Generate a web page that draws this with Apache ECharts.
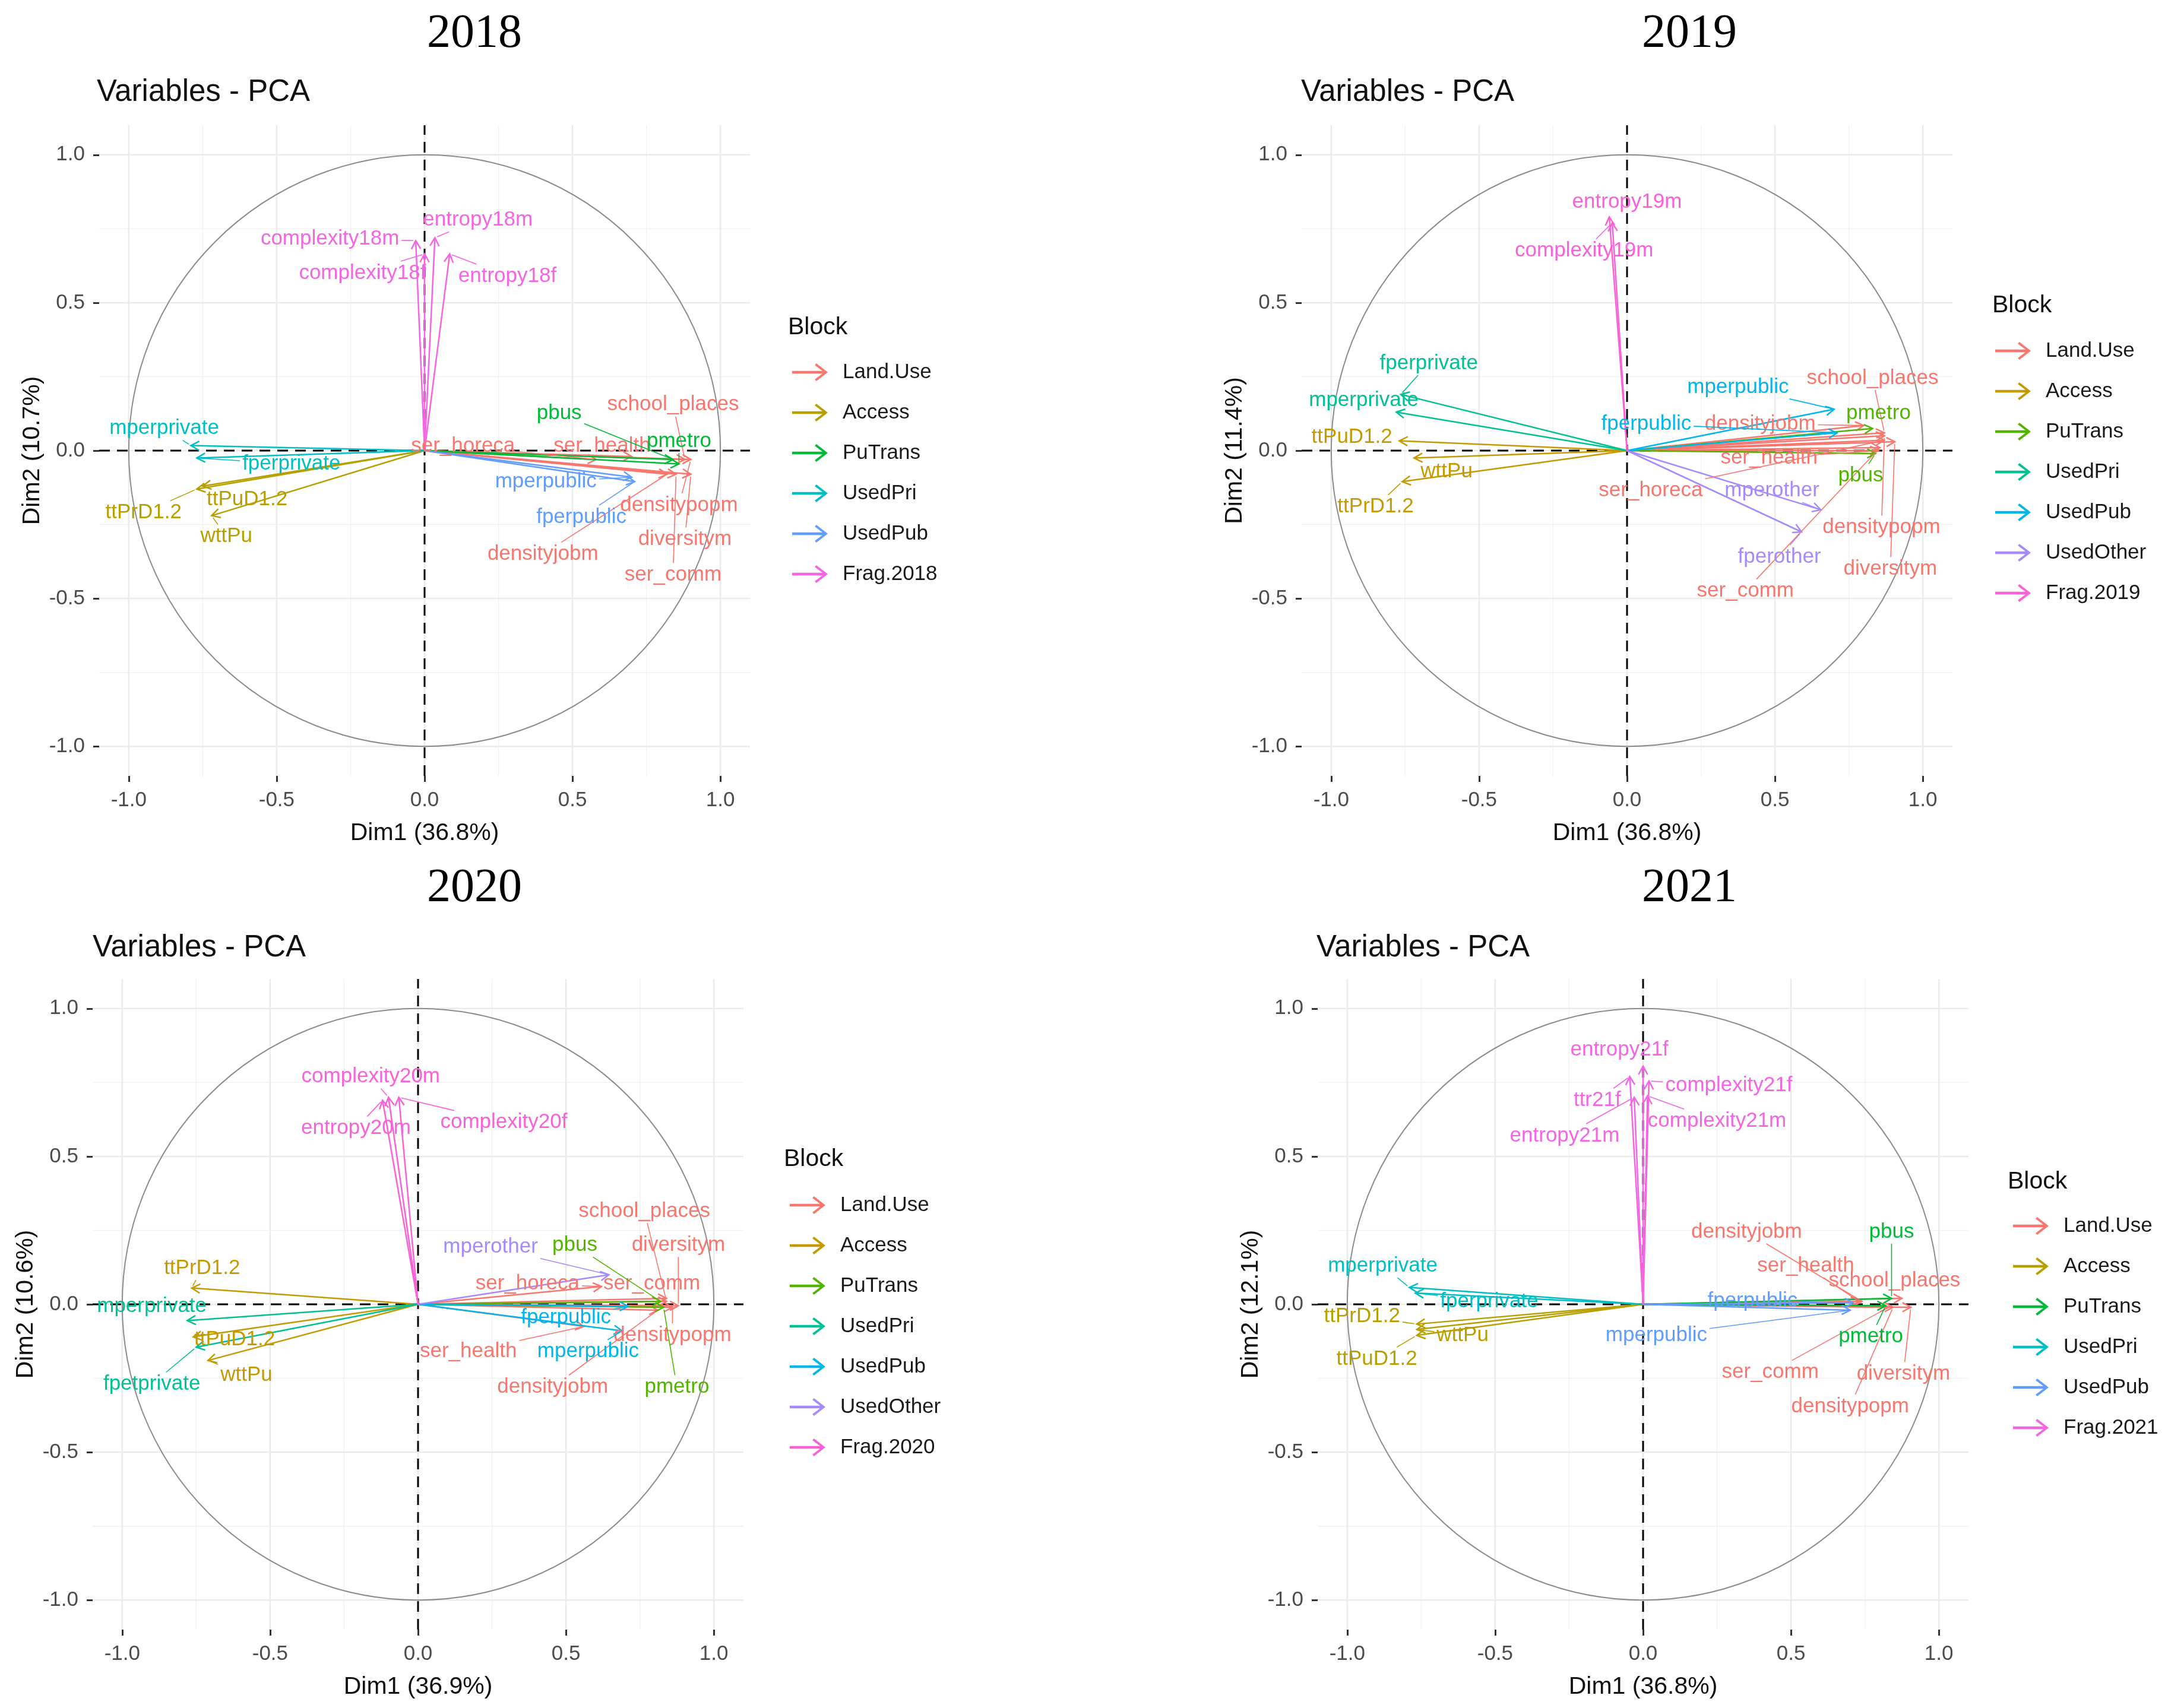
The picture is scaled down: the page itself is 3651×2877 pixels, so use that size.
<!DOCTYPE html>
<html><head><meta charset="utf-8">
<script src="https://cdn.jsdelivr.net/npm/echarts@6/dist/echarts.min.js"></script>
<style>html,body{margin:0;padding:0;background:#fff}#c{width:3651px;height:2877px}</style>
</head><body><div id="c"></div>
<script>
// ---------------- DATA ----------------
const axisTicks = [-1.0, -0.5, 0.0, 0.5, 1.0];
const minorTicks = [-0.75, -0.25, 0.25, 0.75];
const tickLabels = ['-1.0', '-0.5', '0.0', '0.5', '1.0'];
const yearTitles = ['2018', '2019', '2020', '2021'];
const dim1Titles = ['Dim1 (36.8%)', 'Dim1 (36.8%)', 'Dim1 (36.9%)', 'Dim1 (36.8%)'];
const dim2Titles = ['Dim2 (10.7%)', 'Dim2 (11.4%)', 'Dim2 (10.6%)', 'Dim2 (12.1%)'];

const blocks2018 = ['Land.Use', 'Access', 'PuTrans', 'UsedPri', 'UsedPub', 'Frag.2018'];
const blocks2019 = ['Land.Use', 'Access', 'PuTrans', 'UsedPri', 'UsedPub', 'UsedOther', 'Frag.2019'];
const blocks2020 = ['Land.Use', 'Access', 'PuTrans', 'UsedPri', 'UsedPub', 'UsedOther', 'Frag.2020'];
const blocks2021 = ['Land.Use', 'Access', 'PuTrans', 'UsedPri', 'UsedPub', 'Frag.2021'];

// 2018
const names2018 = ['ser_horeca','ser_health','school_places','densitypopm','diversitym','densityjobm','ser_comm',
  'ttPrD1.2','ttPuD1.2','wttPu','pbus','pmetro','mperprivate','fperprivate','mperpublic','fperpublic',
  'complexity18m','entropy18m','complexity18f','entropy18f'];
const block2018 = ['Land.Use','Land.Use','Land.Use','Land.Use','Land.Use','Land.Use','Land.Use',
  'Access','Access','Access','PuTrans','PuTrans','UsedPri','UsedPri','UsedPub','UsedPub',
  'Frag.2018','Frag.2018','Frag.2018','Frag.2018'];
const dim1_2018 = [0.58, 0.70, 0.88, 0.90, 0.90, 0.82, 0.85, -0.77, -0.75, -0.72, 0.84, 0.86, -0.79, -0.77, 0.70, 0.71, -0.03, 0.035, 0.0, 0.085];
const dim2_2018 = [-0.03, -0.02, -0.03, -0.03, -0.08, -0.08, -0.08, -0.13, -0.12, -0.22, -0.03, -0.045, 0.017, -0.025, -0.09, -0.105, 0.71, 0.72, 0.665, 0.665];

// 2019
const names2019 = ['school_places','densityjobm','ser_health','ser_horeca','densitypopm','diversitym','ser_comm',
  'ttPuD1.2','wttPu','ttPrD1.2','pmetro','pbus','fperprivate','mperprivate','mperpublic','fperpublic',
  'mperother','fperother','entropy19m','complexity19m'];
const block2019 = ['Land.Use','Land.Use','Land.Use','Land.Use','Land.Use','Land.Use','Land.Use',
  'Access','Access','Access','PuTrans','PuTrans','UsedPri','UsedPri','UsedPub','UsedPub',
  'UsedOther','UsedOther','Frag.2019','Frag.2019'];
const dim1_2019 = [0.87, 0.80, 0.85, 0.87, 0.87, 0.905, 0.855, -0.77, -0.72, -0.76, 0.83, 0.84, -0.765, -0.78, 0.70, 0.71, 0.655, 0.59, -0.06, -0.05];
const dim2_2019 = [0.06, 0.085, 0.0, 0.035, 0.05, 0.03, 0.01, 0.033, -0.025, -0.105, 0.075, -0.01, 0.19, 0.13, 0.14, 0.06, -0.20, -0.275, 0.79, 0.77];

// 2020
const names2020 = ['school_places','diversitym','ser_horeca','ser_comm','densitypopm','ser_health','densityjobm',
  'ttPrD1.2','ttPuD1.2','wttPu','pbus','pmetro','mperprivate','fpetprivate','fperpublic','mperpublic',
  'mperother','complexity20m','complexity20f','entropy20m'];
const block2020 = ['Land.Use','Land.Use','Land.Use','Land.Use','Land.Use','Land.Use','Land.Use',
  'Access','Access','Access','PuTrans','PuTrans','UsedPri','UsedPri','UsedPub','UsedPub',
  'UsedOther','Frag.2020','Frag.2020','Frag.2020'];
const dim1_2020 = [0.84, 0.88, 0.62, 0.84, 0.86, 0.56, 0.81, -0.765, -0.76, -0.71, 0.82, 0.83, -0.78, -0.75, 0.71, 0.69, 0.645, -0.10, -0.065, -0.12];
const dim2_2020 = [0.01, -0.005, 0.06, 0.02, -0.01, -0.075, -0.02, 0.055, -0.11, -0.19, 0.01, -0.01, -0.055, -0.145, -0.007, -0.09, 0.10, 0.70, 0.70, 0.69];

// 2021
const names2021 = ['densityjobm','ser_health','school_places','ser_comm','diversitym','densitypopm',
  'ttPrD1.2','wttPu','ttPuD1.2','pbus','pmetro','mperprivate','fperprivate','mperpublic','fperpublic',
  'entropy21f','complexity21f','ttr21f','complexity21m','entropy21m'];
const block2021 = ['Land.Use','Land.Use','Land.Use','Land.Use','Land.Use','Land.Use',
  'Access','Access','Access','PuTrans','PuTrans','UsedPri','UsedPri','UsedPub','UsedPub',
  'Frag.2021','Frag.2021','Frag.2021','Frag.2021','Frag.2021'];
const dim1_2021 = [0.74, 0.73, 0.875, 0.83, 0.905, 0.845, -0.765, -0.765, -0.765, 0.84, 0.82, -0.79, -0.77, 0.70, 0.71, 0.0, 0.02, -0.045, 0.015, -0.03];
const dim2_2021 = [0.01, 0.01, 0.02, -0.01, -0.01, -0.01, -0.067, -0.085, -0.105, 0.02, -0.005, 0.057, 0.038, -0.02, 0.005, 0.805, 0.755, 0.77, 0.705, 0.70];

// ---------------- LAYOUT (label placement as drawn by the repel step, data units) ----------------
const labelAt2018 = [[0.13,0.015],[0.60,0.015],[0.84,0.155],[0.86,-0.185],[0.88,-0.30],[0.40,-0.35],[0.84,-0.42],
  [-0.95,-0.21],[-0.60,-0.165],[-0.67,-0.29],[0.455,0.125],[0.86,0.032],[-0.88,0.075],[-0.45,-0.045],[0.41,-0.105],[0.53,-0.225],
  [-0.32,0.715],[0.18,0.78],[-0.21,0.60],[0.28,0.59]];
const labelAt2019 = [[0.83,0.245],[0.45,0.09],[0.48,-0.025],[0.08,-0.135],[0.86,-0.26],[0.89,-0.40],[0.40,-0.475],
  [-0.93,0.045],[-0.61,-0.07],[-0.85,-0.19],[0.85,0.125],[0.79,-0.085],[-0.67,0.295],[-0.89,0.17],[0.375,0.215],[0.065,0.09],
  [0.49,-0.135],[0.515,-0.36],[0.0,0.84],[-0.145,0.675]];
const labelAt2020 = [[0.765,0.315],[0.88,0.20],[0.37,0.07],[0.79,0.07],[0.86,-0.105],[0.17,-0.16],[0.455,-0.28],
  [-0.73,0.122],[-0.62,-0.12],[-0.58,-0.24],[0.53,0.20],[0.875,-0.28],[-0.90,-0.007],[-0.90,-0.27],[0.50,-0.045],[0.575,-0.16],
  [0.245,0.195],[-0.16,0.77],[0.29,0.615],[-0.21,0.595]];
const labelAt2021 = [[0.35,0.245],[0.55,0.13],[0.85,0.08],[0.43,-0.23],[0.88,-0.235],[0.70,-0.345],
  [-0.95,-0.04],[-0.61,-0.105],[-0.90,-0.185],[0.84,0.245],[0.77,-0.11],[-0.88,0.13],[-0.52,0.01],[0.045,-0.105],[0.37,0.012],
  [-0.08,0.86],[0.29,0.74],[-0.155,0.69],[0.25,0.62],[-0.265,0.57]];

const palette6 = ['#F8766D','#B79F00','#00BA38','#00BFC4','#619CFF','#F564E3'];
const palette7 = ['#F8766D','#C49A00','#53B400','#00C094','#00B6EB','#A58AFF','#FB61D7'];

const panels = [
  {blocks: blocks2018, pal: palette6, names: names2018, block: block2018, d1: dim1_2018, d2: dim2_2018, lab: labelAt2018,
   left: 167, top: 211, titleX: 799, titleTop: 18, subLeft: 163, subTop: 130, blockLeft: 1327, blockTop: 531, legLeft: 1334, legTop: 607},
  {blocks: blocks2019, pal: palette7, names: names2019, block: block2019, d1: dim1_2019, d2: dim2_2019, lab: labelAt2019,
   left: 2192, top: 211, titleX: 2845, titleTop: 18, subLeft: 2191, subTop: 130, blockLeft: 3355, blockTop: 494, legLeft: 3360, legTop: 571},
  {blocks: blocks2020, pal: palette7, names: names2020, block: block2020, d1: dim1_2020, d2: dim2_2020, lab: labelAt2020,
   left: 156, top: 1649, titleX: 799, titleTop: 1457, subLeft: 156, subTop: 1571, blockLeft: 1320, blockTop: 1932, legLeft: 1330, legTop: 2010},
  {blocks: blocks2021, pal: palette6, names: names2021, block: block2021, d1: dim1_2021, d2: dim2_2021, lab: labelAt2021,
   left: 2219, top: 1649, titleX: 2845, titleTop: 1457, subLeft: 2217, subTop: 1571, blockLeft: 3381, blockTop: 1970, legLeft: 3390, legTop: 2045}
];
const SIZE = 1096;
const SANS = '"Liberation Sans", Arial, sans-serif';
const LABEL_FONT = '35px ' + SANS;

const measureCtx = document.createElement('canvas').getContext('2d');
measureCtx.font = LABEL_FONT;

function fmtTick(v) {
  let best = 0;
  axisTicks.forEach((t, i) => { if (Math.abs(t - v) < Math.abs(axisTicks[best] - v)) best = i; });
  return tickLabels[best];
}

function backgroundRender(params, api) {
  const lo = -1.1, hi = 1.1;
  const ch = [];
  minorTicks.forEach(t => {
    const a = api.coord([t, lo]), b = api.coord([t, hi]);
    ch.push({type: 'line', shape: {x1: a[0], y1: a[1], x2: b[0], y2: b[1]}, style: {stroke: '#F2F2F2', lineWidth: 1.5}});
    const c = api.coord([lo, t]), d = api.coord([hi, t]);
    ch.push({type: 'line', shape: {x1: c[0], y1: c[1], x2: d[0], y2: d[1]}, style: {stroke: '#F2F2F2', lineWidth: 1.5}});
  });
  axisTicks.forEach(t => {
    const a = api.coord([t, lo]), b = api.coord([t, hi]);
    ch.push({type: 'line', shape: {x1: a[0], y1: a[1], x2: b[0], y2: b[1]}, style: {stroke: '#EBEBEB', lineWidth: 2.5}});
    const c = api.coord([lo, t]), d = api.coord([hi, t]);
    ch.push({type: 'line', shape: {x1: c[0], y1: c[1], x2: d[0], y2: d[1]}, style: {stroke: '#EBEBEB', lineWidth: 2.5}});
  });
  const o = api.coord([0, 0]);
  const r = api.size([1, 1]);
  ch.push({type: 'circle', shape: {cx: o[0], cy: o[1], r: r[0]}, style: {stroke: '#8c8c8c', lineWidth: 2, fill: null}});
  const v1 = api.coord([0, lo]), v2 = api.coord([0, hi]);
  ch.push({type: 'line', shape: {x1: v1[0], y1: v1[1], x2: v2[0], y2: v2[1]}, style: {stroke: '#000', lineWidth: 3, lineDash: [18, 12]}});
  const h1 = api.coord([lo, 0]), h2 = api.coord([hi, 0]);
  ch.push({type: 'line', shape: {x1: h1[0], y1: h1[1], x2: h2[0], y2: h2[1]}, style: {stroke: '#000', lineWidth: 3, lineDash: [18, 12]}});
  return {type: 'group', children: ch};
}

function arrowRender(color) {
  return function (params, api) {
    const o = api.coord([0, 0]);
    const t = api.coord([api.value(0), api.value(1)]);
    const ang = Math.atan2(t[1] - o[1], t[0] - o[0]);
    const L = 16, A = 0.5;
    const p1 = [t[0] - L * Math.cos(ang - A), t[1] - L * Math.sin(ang - A)];
    const p2 = [t[0] - L * Math.cos(ang + A), t[1] - L * Math.sin(ang + A)];
    return {type: 'group', children: [
      {type: 'line', shape: {x1: o[0], y1: o[1], x2: t[0], y2: t[1]}, style: {stroke: color, lineWidth: 2.5}},
      {type: 'polyline', shape: {points: [p1, t, p2]}, style: {stroke: color, lineWidth: 2.5, fill: null}}
    ]};
  };
}

function labelRender(color, names) {
  return function (params, api) {
    const t = api.coord([api.value(0), api.value(1)]);
    const c = api.coord([api.value(2), api.value(3)]);
    const name = names[api.value(4)];
    const w = measureCtx.measureText(name).width;
    const ch = [];
    const hw = w / 2 + 4, hh = 20;
    const dx = t[0] - c[0], dy = t[1] - c[1];
    let s = Infinity;
    if (Math.abs(dx) > 1e-6) s = Math.min(s, hw / Math.abs(dx));
    if (Math.abs(dy) > 1e-6) s = Math.min(s, hh / Math.abs(dy));
    if (s < 1) {
      const sx = c[0] + dx * s, sy = c[1] + dy * s;
      const len = Math.hypot(t[0] - sx, t[1] - sy);
      if (len > 14) {
        const ex = t[0] - (t[0] - sx) / len * 4, ey = t[1] - (t[1] - sy) / len * 4;
        ch.push({type: 'line', shape: {x1: sx, y1: sy, x2: ex, y2: ey}, style: {stroke: color, lineWidth: 1.6}});
      }
    }
    ch.push({type: 'text', x: c[0], y: c[1], style: {text: name, fill: color, font: LABEL_FONT, align: 'center', verticalAlign: 'middle'}});
    return {type: 'group', children: ch};
  };
}

const grids = [], xAxes = [], yAxes = [], series = [], titles = [], legends = [];
const legendIcon = 'path://M0,9L26,9L26,11L0,11Z M19,3L28,10L19,17L17.8,15.6L25.2,10L17.8,4.4Z';

panels.forEach((p, i) => {
  grids.push({left: p.left, top: p.top, width: SIZE, height: SIZE, containLabel: false});
  xAxes.push({
    gridIndex: i, type: 'value', min: -1.1, max: 1.1,
    axisLine: {show: false, onZero: false},
    splitLine: {show: false},
    axisTick: {show: true, customValues: axisTicks, length: 10, lineStyle: {color: '#333', width: 3}},
    axisLabel: {customValues: axisTicks, formatter: fmtTick, color: '#4D4D4D', fontSize: 35, fontFamily: SANS, margin: 24},
    name: dim1Titles[i], nameLocation: 'middle', nameGap: 76,
    nameTextStyle: {fontSize: 41, fontFamily: SANS, color: '#111'}
  });
  yAxes.push({
    gridIndex: i, type: 'value', min: -1.1, max: 1.1,
    axisLine: {show: false, onZero: false},
    splitLine: {show: false},
    axisTick: {show: true, customValues: axisTicks, length: 10, lineStyle: {color: '#333', width: 3}},
    axisLabel: {customValues: axisTicks, formatter: fmtTick, color: '#4D4D4D', fontSize: 35, fontFamily: SANS, margin: 24},
    name: dim2Titles[i], nameLocation: 'middle', nameGap: 92,
    nameTextStyle: {fontSize: 41, fontFamily: SANS, color: '#111'}
  });
  series.push({type: 'custom', name: 'bg' + i, xAxisIndex: i, yAxisIndex: i, z: 1, silent: true,
    data: [[0, 0]], renderItem: backgroundRender});

  const legendNames = [];
  p.blocks.forEach((b, bi) => {
    const color = p.pal[bi];
    const sname = yearTitles[i] + '|' + b;
    legendNames.push(sname);
    const rows = [];
    p.names.forEach((n, k) => {
      if (p.block[k] === b) rows.push([p.d1[k], p.d2[k], p.lab[k][0], p.lab[k][1], k]);
    });
    series.push({type: 'custom', name: sname, xAxisIndex: i, yAxisIndex: i, z: 2,
      itemStyle: {color: color}, encode: {x: 0, y: 1}, data: rows, renderItem: arrowRender(color)});
    series.push({type: 'custom', name: sname, xAxisIndex: i, yAxisIndex: i, z: 3,
      itemStyle: {color: color}, encode: {x: 0, y: 1}, data: rows, renderItem: labelRender(color, p.names)});
  });
  legends.push({
    data: legendNames, orient: 'vertical', left: p.legLeft, top: p.legTop, padding: 0,
    itemWidth: 60, itemHeight: 30, itemGap: 28, icon: legendIcon, selectedMode: false,
    formatter: n => n.split('|')[1],
    textStyle: {fontSize: 35, fontFamily: SANS, color: '#1a1a1a', lineHeight: 40, padding: [0, 0, 0, 20]}
  });
  titles.push({text: yearTitles[i], left: p.titleX, top: p.titleTop, padding: 0, textAlign: 'center',
    textStyle: {fontFamily: '"Liberation Serif", "Times New Roman", serif', fontSize: 80, fontWeight: 'normal', color: '#000', lineHeight: 80}});
  titles.push({text: 'Variables - PCA', left: p.subLeft, top: p.subTop, padding: 0,
    textStyle: {fontFamily: SANS, fontSize: 51, fontWeight: 'normal', color: '#111', lineHeight: 52}});
  titles.push({text: 'Block', left: p.blockLeft, top: p.blockTop, padding: 0,
    textStyle: {fontFamily: SANS, fontSize: 41, fontWeight: 'normal', color: '#111', lineHeight: 42}});
});

const chart = echarts.init(document.getElementById('c'), null, {renderer: 'canvas'});
chart.setOption({
  backgroundColor: '#fff',
  animation: false,
  title: titles,
  grid: grids,
  xAxis: xAxes,
  yAxis: yAxes,
  legend: legends,
  series: series
});
</script>
</body></html>
